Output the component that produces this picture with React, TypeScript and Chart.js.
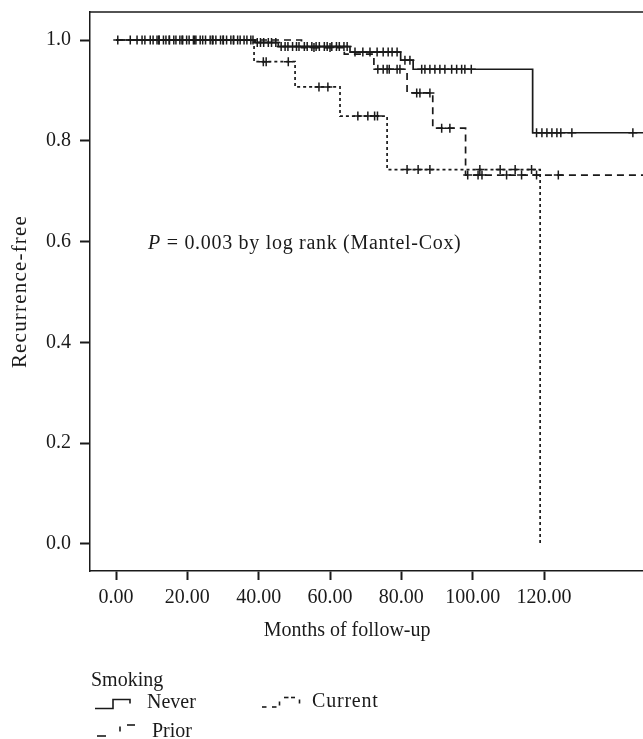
import React, { useEffect, useRef } from "react";
import { Chart, registerables } from "chart.js";

Chart.register(...registerables);

const FONT_FAMILY = "'Liberation Serif', 'Times New Roman', serif";
const INK = "#1a1a1a";

// Axis ticks
const xTickValues = [0, 20, 40, 60, 80, 100, 120];
const yTickValues = [0, 0.2, 0.4, 0.6, 0.8, 1.0];

// Kaplan-Meier step curves (event time, survival after event)
const neverTimes = [0, 39, 45.5, 65.6, 79.8, 83.3, 116.8, 148];
const neverSurv = [1.0, 0.995, 0.987, 0.976, 0.96, 0.942, 0.816, 0.816];

const priorTimes = [0, 52, 64, 72.3, 81.6, 88.8, 98, 148];
const priorSurv = [1.0, 0.985, 0.972, 0.942, 0.895, 0.825, 0.732, 0.732];

const currentTimes = [0, 38.7, 50.2, 62.8, 76, 118.9];
const currentSurv = [1.0, 0.957, 0.907, 0.849, 0.743, 0.002];

// Censored observations (months)
const neverCensored = [
  0.5, 4, 5.9, 7.3, 8.1, 9.6, 10.4, 11.5, 12.1, 13.3, 14.0, 14.9, 16.2, 16.8,
  17.9, 18.7, 19.8, 20.5, 21.7, 22.4, 23.6, 24.3, 25.1, 26.4, 27.2, 28.0, 29.3,
  30.1, 31.0, 32.2, 32.9, 34.1, 34.8, 35.9, 36.7, 37.8, 38.4, 39.6, 40.5, 41.4,
  42.7, 43.6, 44.8, 46.3, 47.4, 48.2, 49.5, 50.6, 51.3, 52.8, 53.6, 54.9, 56.1,
  57.0, 58.4, 59.2, 60.5, 61.8, 62.6, 63.9, 64.8, 67, 69.2, 71.2, 73.2, 74.9,
  76.3, 77.4, 78.8, 81, 82.4, 85.7, 86.6, 88, 89.4, 90.8, 92.2, 94.1, 95.5,
  96.9, 97.8, 99.6, 117.9, 119.4, 120.8, 122.2, 123.6, 124.7, 127.8, 144.9,
];
const priorCensored = [
  12, 18.5, 27, 33, 55.5, 60, 73.4, 74.9, 76.0, 76.6, 78.8, 79.6, 84.3, 85.2,
  88, 91.3, 93.6, 98.6, 101.5, 102.6, 109.5, 113.7, 117.9, 124,
];
const currentCensored = [
  15, 22, 30, 41.3, 42.1, 48.3, 56.9, 59.4, 67.8, 70.6, 72.5, 73.3, 81.6, 84.7,
  88, 102, 107.7, 111.9, 116.5,
];

function stepPoints(t: number[], s: number[]) {
  return t.map((x, i) => ({ x, y: s[i] }));
}
function survAt(t: number[], s: number[], time: number) {
  let v = s[0];
  for (let i = 0; i < t.length; i++) if (t[i] <= time) v = s[i];
  return v;
}
function censorPoints(c: number[], t: number[], s: number[]) {
  return c.map((x) => ({ x, y: survAt(t, s, x) }));
}

const overlayPlugin = {
  id: "overlay",
  afterDraw(chart: any) {
    const { ctx, chartArea, scales } = chart;
    const xs = scales.x;
    const ys = scales.y;
    ctx.save();
    ctx.strokeStyle = INK;
    ctx.fillStyle = INK;
    // top frame line
    ctx.lineWidth = 1.5;
    ctx.setLineDash([]);
    ctx.beginPath();
    ctx.moveTo(chartArea.left - 0.75, chartArea.top);
    ctx.lineTo(chartArea.right, chartArea.top);
    ctx.stroke();

    ctx.font = `20px ${FONT_FAMILY}`;
    // x title
    ctx.textAlign = "center";
    ctx.textBaseline = "alphabetic";
    ctx.fillText("Months of follow-up", xs.getPixelForValue(64.8), 636);
    // y title
    ctx.save();
    ctx.translate(20, (chartArea.top + chartArea.bottom) / 2);
    ctx.rotate(-Math.PI / 2);
    ctx.textBaseline = "middle";
    ctx.font = `21px ${FONT_FAMILY}`;
    (ctx as any).letterSpacing = "1.2px";
    ctx.fillText("Recurrence-free", 0, 0);
    ctx.restore();

    // P-value annotation
    ctx.textAlign = "left";
    ctx.textBaseline = "alphabetic";
    (ctx as any).letterSpacing = "0.7px";
    const px = xs.getPixelForValue(9);
    const py = ys.getPixelForValue(0.6) + 7;
    ctx.font = `italic 20px ${FONT_FAMILY}`;
    ctx.fillText("P", px, py);
    const pw = ctx.measureText("P").width;
    ctx.font = `20px ${FONT_FAMILY}`;
    ctx.fillText(" = 0.003 by log rank (Mantel-Cox)", px + pw, py);
    (ctx as any).letterSpacing = "0px";

    // legend
    ctx.fillText("Smoking", 91, 686);
    ctx.fillText("Never", 147, 708);
    (ctx as any).letterSpacing = "0.8px";
    ctx.fillText("Current", 312, 707);
    (ctx as any).letterSpacing = "0px";
    ctx.fillText("Prior", 152, 737);

    const seg = (pts: number[][]) => {
      ctx.beginPath();
      pts.forEach(([x, y], i) => (i ? ctx.lineTo(x, y) : ctx.moveTo(x, y)));
      ctx.stroke();
    };
    ctx.lineWidth = 1.6;
    seg([[95, 708.5], [113, 708.5], [113, 699.5], [130, 699.5], [130, 703.5]]);
    // prior symbol
    seg([[97, 736], [106, 736]]);
    seg([[120, 726.5], [120, 731.5]]);
    seg([[127, 725], [135, 725]]);
    // current symbol
    seg([[262, 707], [266.5, 707]]);
    seg([[272, 707], [276.5, 707]]);
    seg([[279.5, 701.5], [279.5, 705.5]]);
    seg([[284, 697.5], [288.5, 697.5]]);
    seg([[291, 697.5], [295, 697.5]]);
    seg([[299.5, 699.5], [299.5, 703.5]]);
    ctx.restore();
  },
};

export default function App() {
  const canvasRef = useRef<HTMLCanvasElement | null>(null);

  useEffect(() => {
    if (!canvasRef.current) return;
    const lineBase = {
      showLine: true,
      stepped: true,
      pointRadius: 0,
      borderColor: INK,
      borderWidth: 1.7,
      fill: false,
    };
    const markBase = {
      showLine: false,
      pointStyle: "cross",
      pointRadius: 4.5,
      pointBorderWidth: 1.5,
      pointBorderColor: INK,
      borderColor: INK,
      backgroundColor: INK,
    };
    const chart = new Chart(canvasRef.current, {
      type: "scatter",
      data: {
        datasets: [
          { ...lineBase, label: "Never", data: stepPoints(neverTimes, neverSurv) },
          { ...lineBase, label: "Prior", borderDash: [7, 5], data: stepPoints(priorTimes, priorSurv) },
          { ...lineBase, label: "Current", borderDash: [3, 3], data: stepPoints(currentTimes, currentSurv) },
          { ...markBase, label: "Never censored", data: censorPoints(neverCensored, neverTimes, neverSurv) },
          { ...markBase, label: "Prior censored", data: censorPoints(priorCensored, priorTimes, priorSurv) },
          { ...markBase, label: "Current censored", data: censorPoints(currentCensored, currentTimes, currentSurv) },
        ] as any,
      },
      options: {
        animation: false,
        responsive: true,
        maintainAspectRatio: false,
        layout: { autoPadding: false, padding: { top: 12, left: 0, right: 0, bottom: 0 } },
        plugins: {
          legend: { display: false },
          tooltip: { enabled: false },
        },
        scales: {
          x: {
            type: "linear",
            min: -7.29,
            max: 147.74,
            afterBuildTicks: (scale: any) => {
              scale.ticks = xTickValues.map((v) => ({ value: v }));
            },
            afterFit: (scale: any) => {
              scale.height = 168;
              scale.paddingLeft = 0;
              scale.paddingRight = 0;
            },
            grid: {
              drawOnChartArea: false,
              drawTicks: true,
              tickLength: 9,
              tickColor: INK,
              tickWidth: 2,
            },
            border: { display: true, color: INK, width: 1.5 },
            ticks: {
              color: INK,
              padding: 6,
              maxRotation: 0,
              autoSkip: false,
              font: { family: FONT_FAMILY, size: 20 },
              callback: (v: any) => Number(v).toFixed(2),
            },
          },
          y: {
            type: "linear",
            min: -0.0536,
            max: 1.0556,
            afterBuildTicks: (scale: any) => {
              scale.ticks = yTickValues.map((v) => ({ value: v }));
            },
            afterFit: (scale: any) => {
              scale.width = 90;
              scale.paddingTop = 0;
              scale.paddingBottom = 0;
            },
            grid: {
              drawOnChartArea: false,
              drawTicks: true,
              tickLength: 10,
              tickColor: INK,
              tickWidth: 2,
            },
            border: { display: true, color: INK, width: 1.5 },
            ticks: {
              color: INK,
              padding: 9,
              autoSkip: false,
              font: { family: FONT_FAMILY, size: 20 },
              callback: (v: any) => Number(v).toFixed(1),
            },
          },
        },
      } as any,
      plugins: [overlayPlugin],
    });
    return () => chart.destroy();
  }, []);

  return (
    <div style={{ position: "absolute", left: 0, top: 0, width: 643, height: 739, background: "#fff" }}>
      <canvas ref={canvasRef} />
    </div>
  );
}
